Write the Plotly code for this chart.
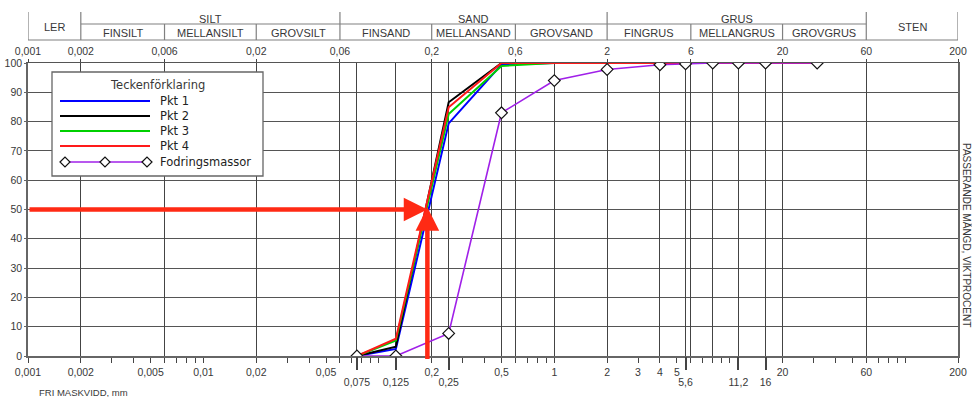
import math
import plotly.graph_objects as go

# Sieve sizes (mm) and passing percentages
sieves = [0.075, 0.125, 0.25, 0.5, 1, 2, 4, 5.6, 8, 11.2, 16, 31.5]
pkt1 = [0, 2.4, 79.4, 99.5, 100, 100, 100, 100, 100, 100, 100, 100]
pkt2 = [0, 3.2, 86.6, 100, 100, 100, 100, 100, 100, 100, 100, 100]
pkt3 = [0, 5.3, 82.6, 99.0, 100, 100, 100, 100, 100, 100, 100, 100]
pkt4 = [0, 5.9, 84.9, 100, 100, 100, 100, 100, 100, 100, 100, 100]
fodring = [0, 0, 7.7, 83.0, 94.0, 97.8, 99.4, 99.7, 100, 100, 100, 100]

series_names = ["Pkt 1", "Pkt 2", "Pkt 3", "Pkt 4"]
series_values = [pkt1, pkt2, pkt3, pkt4]
series_colors = ["#0000ff", "#000000", "#00d000", "#ff1a1a"]
fodring_name = "Fodringsmassor"
fodring_color = "#a020e8"

# d50 marker
d50_size = 0.189
d50_pass = 50

# Fraction classification header
group_bounds = [0.001, 0.002, 0.06, 2, 60, 200]
group_names = ["LER", "SILT", "SAND", "GRUS", "STEN"]
sub_bounds = [0.002, 0.006, 0.02, 0.06, 0.2, 0.6, 2, 6, 20, 60]
sub_names = ["FINSILT", "MELLANSILT", "GROVSILT", "FINSAND", "MELLANSAND",
             "GROVSAND", "FINGRUS", "MELLANGRUS", "GROVGRUS"]

# Axis ticks
top_ticks = [0.001, 0.002, 0.006, 0.02, 0.06, 0.2, 0.6, 2, 6, 20, 60, 200]
top_labels = ["0,001", "0,002", "0,006", "0,02", "0,06", "0,2", "0,6", "2", "6", "20", "60", "200"]
bottom_ticks = [0.001, 0.002, 0.005, 0.01, 0.02, 0.05, 0.2, 0.5, 1, 2, 3, 4, 5, 20, 60, 200]
bottom_labels = ["0,001", "0,002", "0,005", "0,01", "0,02", "0,05", "0,2", "0,5", "1", "2", "3", "4", "5", "20", "60", "200"]
sieve_ticks = [0.075, 0.125, 0.25, 5.6, 11.2, 16]
sieve_labels = ["0,075", "0,125", "0,25", "5,6", "11,2", "16"]
grid_vals = [0.002, 0.006, 0.02, 0.06, 0.075, 0.125, 0.2, 0.25, 0.5, 0.6,
             1, 2, 4, 5.6, 6, 8, 11.2, 16, 20, 60]

# Figure geometry (pixels)
FW, FH = 972, 397
L, R, T, B = 28, 14, 63, 41
W, H = FW - L - R, FH - T - B


def px(x):
    return (x - L) / W


def py(y):
    return (T + H - y) / H


xr = [math.log10(0.001), math.log10(200)]
FONT = "Liberation Sans, Arial, sans-serif"
LEG_FONT = "DejaVu Sans, sans-serif"
TXT = "#383838"

minor_vals = []
for e in range(-3, 3):
    for k in range(1, 10):
        v = round(k * 10 ** e, 6)
        if 0.001 <= v <= 200 and v not in bottom_ticks and v not in sieve_ticks:
            minor_vals.append(v)

fig = go.Figure()
for name, vals, col in zip(series_names, series_values, series_colors):
    fig.add_trace(go.Scatter(x=sieves, y=vals, mode="lines", name=name,
                             line=dict(color=col, width=2), showlegend=False))
fig.add_trace(go.Scatter(x=sieves, y=fodring, mode="lines+markers", name=fodring_name,
                         line=dict(color=fodring_color, width=1.6),
                         marker=dict(symbol="diamond", size=9, color="white",
                                     line=dict(color="#111", width=1.2)),
                         showlegend=False))

axis_common = dict(type="log", range=xr, zeroline=False, automargin=False)
fig.update_layout(
    width=FW, height=FH,
    margin=dict(l=L, r=R, t=T, b=B, pad=0, autoexpand=False),
    paper_bgcolor="white", plot_bgcolor="white",
    font=dict(family=FONT, size=10, color=TXT),
    showlegend=False,
    xaxis=dict(**axis_common, showgrid=False, tickmode="array", tickvals=bottom_ticks,
               ticktext=bottom_labels,
               ticks="outside", ticklen=5, tickwidth=1, tickcolor="#444",
               showline=True, linecolor="#666", linewidth=1.5,
               tickfont=dict(size=10.5, color=TXT), ticklabelstandoff=1,
               minor=dict(tickvals=minor_vals, ticks="outside", ticklen=5,
                          tickcolor="#444", tickwidth=1, showgrid=False)),
    xaxis2=dict(**axis_common, showgrid=False, overlaying="x", side="top", anchor="y",
                tickmode="array", tickvals=top_ticks, ticktext=top_labels,
                ticks="outside", ticklen=3, tickcolor="#444",
                showline=True, linecolor="#555", linewidth=1,
                tickfont=dict(size=10.5, color=TXT)),
    xaxis3=dict(**axis_common, showgrid=False, overlaying="x", side="bottom", anchor="y",
                tickmode="array", tickvals=sieve_ticks, ticktext=sieve_labels,
                ticks="outside", ticklen=13, tickwidth=1.5, tickcolor="#444",
                ticklabelstandoff=3, tickfont=dict(size=10.5, color=TXT)),
    xaxis4=dict(**axis_common, overlaying="x", side="bottom", anchor="y",
                tickmode="array", tickvals=grid_vals, showticklabels=False, ticks="",
                showgrid=True, gridcolor="#444", gridwidth=1),
    yaxis=dict(range=[0, 100], dtick=10, tick0=0, showgrid=True, gridcolor="#555",
               gridwidth=1, zeroline=False, showline=True, mirror=True, automargin=False,
               linecolor="#666", linewidth=1.5, ticks="outside", ticklen=2,
               tickcolor="#666", tickfont=dict(size=10.5, color=TXT)),
)

# dummy traces to activate overlay axes
for ax in ["x2", "x3", "x4"]:
    fig.add_trace(go.Scatter(x=[1], y=[None], xaxis=ax, yaxis="y",
                             showlegend=False, hoverinfo="skip"))

shapes = []
annotations = []

# Header table
HDR_TOP, HDR_MID, HDR_BOT = 12, 24, 40
hline = dict(color="#808080", width=1.2)
shapes.append(dict(type="line", xref="x", yref="paper", x0=0.002, x1=60,
                   y0=py(HDR_MID), y1=py(HDR_MID), line=hline))
shapes.append(dict(type="line", xref="x", yref="paper", x0=0.001, x1=200,
                   y0=py(HDR_BOT), y1=py(HDR_BOT), line=hline))
for b in group_bounds:
    shapes.append(dict(type="line", xref="x", yref="paper", x0=b, x1=b,
                       y0=py(HDR_TOP), y1=py(HDR_BOT), line=hline))
for b in sub_bounds:
    if b not in group_bounds:
        shapes.append(dict(type="line", xref="x", yref="paper", x0=b, x1=b,
                           y0=py(HDR_MID), y1=py(HDR_BOT), line=hline))
for i, name in enumerate(group_names):
    xm = (math.log10(group_bounds[i]) + math.log10(group_bounds[i + 1])) / 2
    ym = (HDR_TOP + HDR_BOT) / 2 + 0.5 if name in ("LER", "STEN") else (HDR_TOP + HDR_MID) / 2 + 0.5
    annotations.append(dict(x=xm, y=py(ym), xref="x", yref="paper", text=name,
                            showarrow=False, font=dict(size=11, color=TXT),
                            xanchor="center", yanchor="middle"))
for i, name in enumerate(sub_names):
    xm = (math.log10(sub_bounds[i]) + math.log10(sub_bounds[i + 1])) / 2
    annotations.append(dict(x=xm, y=py((HDR_MID + HDR_BOT) / 2 + 1), xref="x", yref="paper",
                            text=name, showarrow=False, font=dict(size=11, color=TXT),
                            xanchor="center", yanchor="middle"))

# Legend box
shapes.append(dict(type="rect", xref="paper", yref="paper", layer="above",
                   x0=px(52), x1=px(263), y0=py(72), y1=py(176),
                   fillcolor="white", line=dict(color="#666", width=1.3)))
annotations.append(dict(x=px(157), y=py(85), xref="paper", yref="paper",
                        text="Teckenförklaring", showarrow=False,
                        font=dict(family=LEG_FONT, size=11.5, color=TXT),
                        xanchor="center", yanchor="middle"))
leg_rows = [101, 116, 131, 146]
for yy, name, col in zip(leg_rows, series_names, series_colors):
    shapes.append(dict(type="line", xref="paper", yref="paper", layer="above",
                       x0=px(60), x1=px(150), y0=py(yy), y1=py(yy),
                       line=dict(color=col, width=2)))
    annotations.append(dict(x=px(158), y=py(yy), xref="paper", yref="paper", text=name,
                            showarrow=False, font=dict(family=LEG_FONT, size=11.5, color="#222"),
                            xanchor="left", yanchor="middle"))
fy = 162
shapes.append(dict(type="line", xref="paper", yref="paper", layer="above",
                   x0=px(62), x1=px(147), y0=py(fy), y1=py(fy),
                   line=dict(color=fodring_color, width=1.6)))
for dx in [65, 105, 147]:
    r = 5
    path = (f"M {px(dx - r)},{py(fy)} L {px(dx)},{py(fy - r)} "
            f"L {px(dx + r)},{py(fy)} L {px(dx)},{py(fy + r)} Z")
    shapes.append(dict(type="path", xref="paper", yref="paper", layer="above", path=path,
                       fillcolor="white", line=dict(color="#111", width=1.2)))
annotations.append(dict(x=px(158), y=py(fy), xref="paper", yref="paper", text=fodring_name,
                        showarrow=False, font=dict(family=LEG_FONT, size=11.5, color="#222"),
                        xanchor="left", yanchor="middle"))

# d50 arrows
arrow_col = "#ff2a14"
annotations.append(dict(x=math.log10(d50_size), y=d50_pass, xref="x", yref="y",
                        ax=math.log10(0.001), ay=d50_pass, axref="x", ayref="y",
                        text="", showarrow=True, arrowhead=2, arrowsize=1.05,
                        arrowwidth=4.5, arrowcolor=arrow_col, standoff=0))
annotations.append(dict(x=math.log10(d50_size), y=d50_pass + 0.8, xref="x", yref="y",
                        ax=math.log10(d50_size), ay=-1.5, axref="x", ayref="y",
                        text="", showarrow=True, arrowhead=2, arrowsize=1.05,
                        arrowwidth=4.5, arrowcolor=arrow_col, standoff=0))

# Axis titles
annotations.append(dict(x=px(37), y=py(393), xref="paper", yref="paper",
                        text="FRI MASKVIDD, mm", showarrow=False,
                        font=dict(size=9.5, color=TXT), xanchor="left", yanchor="middle"))
annotations.append(dict(x=px(967), y=py(235), xref="paper", yref="paper",
                        text="PASSERANDE MÄNGD, VIKTPROCENT", showarrow=False, textangle=90,
                        font=dict(size=10, color=TXT), xanchor="center", yanchor="middle"))

fig.update_layout(shapes=shapes, annotations=annotations)
fig.write_html("out.html")
